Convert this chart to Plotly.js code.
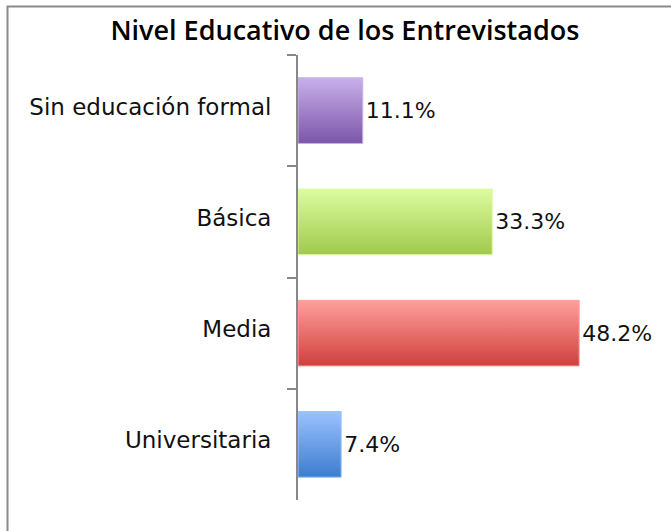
<!DOCTYPE html>
<html>
<head>
<meta charset="utf-8">
<script src="https://cdn.plot.ly/plotly-3.0.1.min.js"></script>
<style>html,body{margin:0;padding:0;background:#fff;}#chart{width:671px;height:531px;}</style>
</head>
<body>
<div id="chart"></div>
<script>
var categories = ["Sin educación formal", "Básica", "Media", "Universitaria"];
var values = [11.1, 33.3, 48.2, 7.4];
var labels = ["11.1%", "33.3%", "48.2%", "7.4%"];
var colors = ["#a384c8", "#bfe27c", "#e66b69", "#6a9fe6"];
var topColors = ["#c8b0ea", "#dcfca0", "#ff9f9e", "#9bc1ff"];
var bottomColors = ["#7c56a8", "#a1c94c", "#cf403c", "#3c7dce"];

var L = 298, W = 350, T = 55, H = 445;
function px(x){ return (x - L) / W; }
function py(y){ return (T + H - y) / H; }

var trace = {
  type: "bar",
  orientation: "h",
  y: categories,
  x: values,
  text: labels,
  textposition: "outside",
  cliponaxis: false,
  textfont: {family: "DejaVu Sans", size: 22, color: "#111"},
  marker: {color: colors, line: {color: topColors, width: 1}},
  hoverinfo: "none"
};

var layout = {
  width: 671, height: 531,
  margin: {l: L, r: 671 - L - W, t: T, b: 531 - T - H},
  paper_bgcolor: "#fff", plot_bgcolor: "#fff",
  title: {text: "Nivel Educativo de los Entrevistados", x: 0.514, xanchor: "center", y: 0.943, yanchor: "middle",
          font: {family: "Open Sans", size: 27, color: "#000", weight: 600}},
  showlegend: false,
  bargap: 0.41,
  xaxis: {range: [0, 60], visible: false, fixedrange: true},
  yaxis: {
    type: "category",
    categoryorder: "array", categoryarray: categories,
    autorange: "reversed",
    showline: true, linecolor: "#888", linewidth: 2,
    ticks: "outside", ticklen: 9, tickwidth: 2, tickcolor: "#888",
    tickson: "boundaries",
    ticklabelstandoff: 20,
    ticklabelshift: 4,
    showgrid: false, zeroline: false,
    tickfont: {family: "DejaVu Sans", size: 23, color: "#111"}
  },
  shapes: [{
    type: "rect", xref: "paper", yref: "paper", layer: "below",
    x0: px(7.5), x1: px(700), y0: py(560), y1: py(6.5),
    line: {color: "#8a8a8a", width: 2}, fillcolor: "rgba(0,0,0,0)"
  }]
};

Plotly.newPlot("chart", [trace], layout, {displayModeBar: false, staticPlot: true}).then(function(gd){
  var svg = gd.querySelector("svg.main-svg");
  var ns = "http://www.w3.org/2000/svg";
  var defs = svg.querySelector("defs") || svg.insertBefore(document.createElementNS(ns, "defs"), svg.firstChild);
  topColors.forEach(function(c, i){
    var g = document.createElementNS(ns, "linearGradient");
    g.setAttribute("id", "barGrad" + i);
    g.setAttribute("x1", "0"); g.setAttribute("y1", "0");
    g.setAttribute("x2", "0"); g.setAttribute("y2", "1");
    [[0, c], [1, bottomColors[i]]].forEach(function(s){
      var st = document.createElementNS(ns, "stop");
      st.setAttribute("offset", s[0]);
      st.setAttribute("stop-color", s[1]);
      g.appendChild(st);
    });
    defs.appendChild(g);
  });
  var paths = gd.querySelectorAll(".barlayer .point path");
  paths.forEach(function(p, i){ p.style.fill = "url(#barGrad" + i + ")"; });
});
</script>
</body>
</html>
